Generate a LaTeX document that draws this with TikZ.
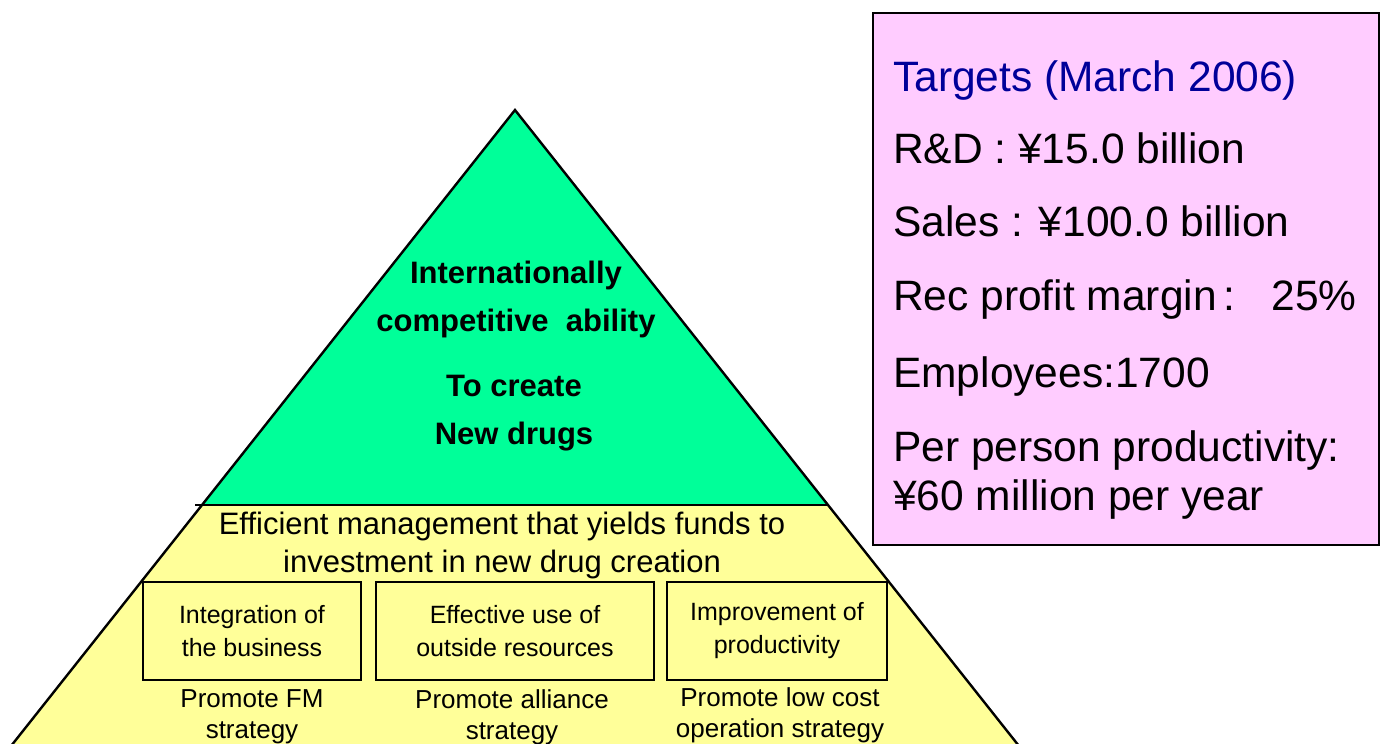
\documentclass[tikz,border=0pt]{standalone}
\usepackage{fontspec}
\setmainfont{Liberation Sans}
\usetikzlibrary{positioning}
\definecolor{apexgreen}{HTML}{00FF99}
\definecolor{basefill}{HTML}{FFFF99}
\definecolor{targetpink}{HTML}{FFCCFF}
\definecolor{targetblue}{HTML}{000099}
\begin{document}
\begin{tikzpicture}[x=1pt,y=-1pt,
  outline/.style={line width=2.4pt},
  apextext/.style={align=center,font=\fontsize{31}{48}\selectfont\bfseries},
  midtext/.style={align=center,font=\fontsize{31}{38}\selectfont},
  aimbox/.style={draw,line width=1.8pt,minimum width=#1,minimum height=98pt,
    inner sep=0pt,align=center,font=\fontsize{25}{33}\selectfont},
  strattext/.style={align=center,inner sep=0pt,font=\fontsize{26}{31}\selectfont},
  tline/.style={anchor=base west,inner sep=0pt,font=\fontsize{42.5}{49}\selectfont}]
\clip (0,0) rectangle (1384,744);
\coordinate (A) at (515,110);
\coordinate (L) at (202,505);
\coordinate (R) at (828,505);
\coordinate (BL) at (-111,900);
\coordinate (BR) at (1141,900);
\fill[basefill] (L) -- (R) -- (BR) -- (BL) -- cycle;
\fill[apexgreen] (A) -- (L) -- (R) -- cycle;
\draw[outline] (BL) -- (A) -- (BR);
\draw[line width=2pt] (195,505) -- (R);
% top of the pyramid
\node[apextext] (intl) at (516,299) {Internationally\\competitive\ \ ability};
\node[apextext] (create) at (514,413) {To create\\New drugs};
% base of the pyramid
\node[midtext] (eff) at (502,545) {Efficient management that yields funds to\\investment in new drug creation};
\node[aimbox=218pt] (integ) at (252,631) {Integration of\\the business};
\node[aimbox=278pt] (outside) at (515,631) {Effective use of\\outside resources};
\node[aimbox=220pt] (improve) at (777,631) {Improvement of\\productivity};
\node[strattext,below=9pt of integ] (fm) {Promote FM\\strategy};
\node[strattext,below=9pt of outside,xshift=-3pt] (alliance) {Promote alliance\\strategy};
\node[strattext,below=7pt of improve,xshift=3pt] (lowcost) {Promote low cost\\operation strategy};
% targets
\node[draw,fill=targetpink,line width=2.6pt,minimum width=506pt,minimum height=532pt] (targets) at (1126,279) {};
\node[tline,text=targetblue] (t0) at (893,91) {Targets (March 2006)};
\node[tline] (t1) at (893,163) {R\&D : ¥15.0 billion};
\node[tline] (t2) at (893,236) {Sales : ¥100.0 billion};
\node[tline] (t3) at (893,310) {Rec profit margin\,:\hspace{36pt}25\%};
\node[tline] (t4) at (893,387) {Employees:1700};
\node[tline] (t5) at (893,461) {Per person productivity:};
\node[tline] (t6) at (893,510) {¥60 million per year};
\end{tikzpicture}
\end{document}
